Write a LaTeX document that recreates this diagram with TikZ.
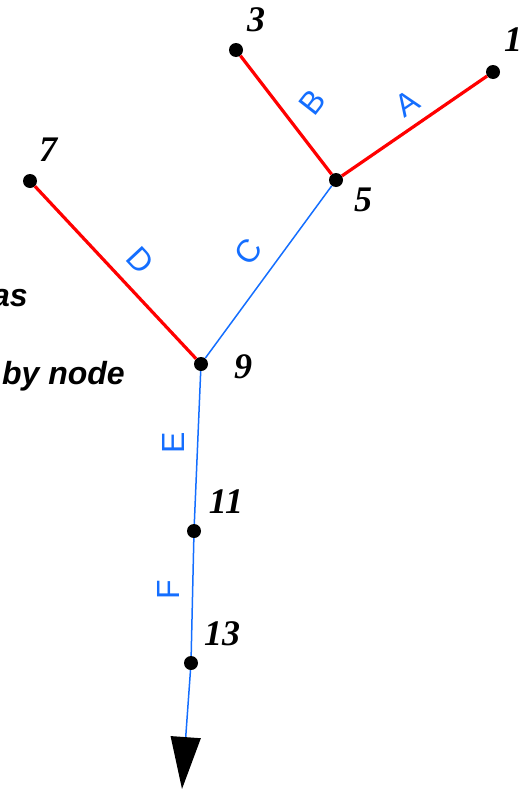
\documentclass[tikz,border=0pt]{standalone}
\usepackage{fontspec}
\usepackage{tikz}
\usetikzlibrary{arrows.meta,positioning}
\definecolor{riverblue}{RGB}{20,110,255}
\newfontfamily\labfont{Liberation Sans}
\newfontfamily\numfont{Liberation Serif}

\begin{document}
\begin{tikzpicture}[x=1pt,y=-1pt,
    junction/.style={circle,fill=black,inner sep=0pt,minimum size=14pt},
    headreach/.style={red,line width=3.2pt},
    downreach/.style={riverblue,line width=1.5pt},
    reachlab/.style={text=riverblue,font=\labfont\fontsize{32}{32}\selectfont,inner sep=0pt},
    nodelab/.style={font=\numfont\bfseries\itshape\fontsize{36}{36}\selectfont,inner sep=0pt},
    note/.style={font=\labfont\bfseries\itshape\fontsize{32}{32}\selectfont,inner sep=0pt,anchor=base east}]
    \useasboundingbox (0,0) rectangle (527,790);

    % Junctions
    \node[junction] (n1) at (493,72) {};
    \node[junction] (n3) at (236,50) {};
    \node[junction] (n5) at (336,180) {};
    \node[junction] (n7) at (30,181) {};
    \node[junction] (n9) at (201,364) {};
    \node[junction] (n11) at (194,531) {};
    \node[junction] (n13) at (191,663) {};
    \coordinate (outlet) at (182,789);

    % Reaches
    \draw[headreach] (n1) -- (n5);
    \draw[headreach] (n3) -- (n5);
    \draw[headreach] (n7) -- (n9);
    \draw[downreach] (n5) -- (n9);
    \draw[downreach] (n9) -- (n11);
    \draw[downreach] (n11) -- (n13);
    \draw[downreach,-{Triangle[width=30pt,length=52pt,color=black,fill=black]}] (n13) -- (outlet);

    % Node numbers
    \node[nodelab] (l1) at (513,40) {1};
    \node[nodelab] (l3) at (256,20) {3};
    \node[nodelab] (l5) at (363,200) {5};
    \node[nodelab] (l7) at (48,150) {7};
    \node[nodelab] (l9) at (243,367) {9};
    \node[nodelab] (l11) at (226,502) {11};
    \node[nodelab] (l13) at (222,634) {13};

    % Reach names
    \node[reachlab,rotate=34] (rA) at (407,103) {A};
    \node[reachlab,rotate=52] (rB) at (312,102) {B};
    \node[reachlab,rotate=54] (rC) at (248,252) {C};
    \node[reachlab,rotate=-47] (rD) at (140,260) {D};
    \node[reachlab,rotate=90] (rE) at (173,443) {E};
    \node[reachlab,rotate=90] (rF) at (168,590) {F};

    % Cut-off text
    \node[note] (t1) at (28,306) {as};
    \node[note] (t2) at (125,384) {by node};
\end{tikzpicture}
\end{document}
